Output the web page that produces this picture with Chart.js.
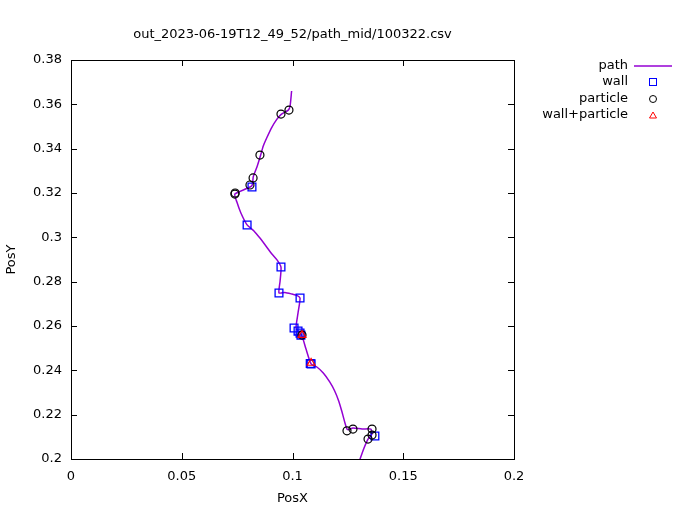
<!DOCTYPE html>
<html>
<head>
<meta charset="utf-8">
<script src="https://cdn.jsdelivr.net/npm/chart.js@4/dist/chart.umd.min.js"></script>
<style>
  html, body { margin: 0; padding: 0; background: #fff; }
  #wrap { width: 680px; height: 519px; }
</style>
</head>
<body>
<div id="wrap"><canvas id="c" width="680" height="519"></canvas></div>
<script>
'use strict';

// --- data ---
const TITLE = 'out_2023-06-19T12_49_52/path_mid/100322.csv';

const pathX = [0.0996, 0.0989, 0.0981, 0.0949, 0.0929, 0.0906, 0.0884, 0.0868, 0.0856, 0.0841,
  0.0823, 0.0816, 0.0740, 0.0749, 0.0767, 0.0795, 0.0826, 0.0853, 0.0880, 0.0907,
  0.0930, 0.0948, 0.0944, 0.0939, 0.0966, 0.0998, 0.1020, 0.1034, 0.1025, 0.1016,
  0.1029, 0.1043, 0.1061, 0.1084, 0.1110, 0.1139, 0.1168, 0.1190, 0.1209, 0.1223,
  0.1236, 0.1248, 0.1273, 0.1314, 0.1354, 0.1359, 0.1341, 0.1323, 0.1305, 0.1287];
const pathY = [0.3660, 0.3592, 0.3574, 0.3555, 0.3532, 0.3495, 0.3449, 0.3412, 0.3370, 0.3322,
  0.3274, 0.3232, 0.3195, 0.3159, 0.3110, 0.3056, 0.3029, 0.2997, 0.2961, 0.2925,
  0.2898, 0.2866, 0.2803, 0.2749, 0.2751, 0.2744, 0.2738, 0.2726, 0.2659, 0.2591,
  0.2573, 0.2555, 0.2496, 0.2429, 0.2415, 0.2388, 0.2348, 0.2308, 0.2261, 0.2214,
  0.2166, 0.2133, 0.2140, 0.2135, 0.2135, 0.2113, 0.2090, 0.2050, 0.2000, 0.1946];

const wallX = [0.0817, 0.0795, 0.0948, 0.0939, 0.1034, 0.1007, 0.1025, 0.1034, 0.1038, 0.1084, 0.1080, 0.1372];
const wallY = [0.3227, 0.3056, 0.2866, 0.2749, 0.2726, 0.2591, 0.2577, 0.2568, 0.2559, 0.2429, 0.2431, 0.2104];

const particleX = [0.0984, 0.0948, 0.0853, 0.0822, 0.0808, 0.0740, 0.0741, 0.1043, 0.1246, 0.1273, 0.1359, 0.1359, 0.1341];
const particleY = [0.3574, 0.3556, 0.3371, 0.3268, 0.3236, 0.3195, 0.3200, 0.2559, 0.2127, 0.2135, 0.2135, 0.2108, 0.2090];

const wpX = [0.1043, 0.1084];
const wpY = [0.2559, 0.2433];

const xTicks = [0, 0.05, 0.1, 0.15, 0.2];
const yTicks = [0.2, 0.22, 0.24, 0.26, 0.28, 0.3, 0.32, 0.34, 0.36, 0.38];

const COL_PATH = '#9400d3';
const COL_WALL = '#0000ff';
const COL_PART = '#000000';
const COL_WP = '#ff0000';

const pts = (xs, ys) => xs.map((x, i) => ({ x: x, y: ys[i] }));
const fmt = v => String(+v.toFixed(3));

Chart.defaults.font.family = "'DejaVu Sans', sans-serif";
Chart.defaults.font.size = 13;
Chart.defaults.color = '#000';

// gnuplot-like frame, inward ticks, title, axis labels and key
const gnuplotFrame = {
  id: 'gnuplotFrame',
  afterDraw(chart) {
    const ctx = chart.ctx;
    const a = chart.chartArea;
    const sx = chart.scales.x, sy = chart.scales.y;
    ctx.save();
    ctx.strokeStyle = '#000';
    ctx.lineWidth = 1;
    ctx.strokeRect(a.left + 0.5, a.top + 0.5, a.right - a.left, a.bottom - a.top);
    ctx.beginPath();
    xTicks.forEach(t => {
      const px = Math.round(sx.getPixelForValue(t)) + 0.5;
      ctx.moveTo(px, a.bottom); ctx.lineTo(px, a.bottom - 6);
      ctx.moveTo(px, a.top); ctx.lineTo(px, a.top + 6);
    });
    yTicks.forEach(t => {
      const py = Math.round(sy.getPixelForValue(t)) + 0.5;
      ctx.moveTo(a.left, py); ctx.lineTo(a.left + 6, py);
      ctx.moveTo(a.right, py); ctx.lineTo(a.right - 6, py);
    });
    ctx.stroke();

    ctx.fillStyle = '#000';
    ctx.font = "13px 'DejaVu Sans', sans-serif";
    ctx.textAlign = 'center';
    ctx.textBaseline = 'middle';
    ctx.fillText(TITLE, (a.left + a.right) / 2, 35);
    ctx.fillText('PosX', (a.left + a.right) / 2, 499);
    ctx.save();
    ctx.translate(12, (a.top + a.bottom) / 2);
    ctx.rotate(-Math.PI / 2);
    ctx.fillText('PosY', 0, 0);
    ctx.restore();

    // key
    const keyX = 628, symX = 653;
    const rows = [
      { text: 'path', y: 66 },
      { text: 'wall', y: 82 },
      { text: 'particle', y: 99 },
      { text: 'wall+particle', y: 115 }
    ];
    ctx.textAlign = 'right';
    rows.forEach(r => ctx.fillText(r.text, keyX, r.y));
    ctx.strokeStyle = COL_PATH;
    ctx.lineWidth = 1.5;
    ctx.beginPath();
    ctx.moveTo(634, 66); ctx.lineTo(672, 66);
    ctx.stroke();
    ctx.lineWidth = 1;
    ctx.strokeStyle = COL_WALL;
    ctx.strokeRect(symX - 3.5, 82 - 3.5, 7, 7);
    ctx.strokeStyle = COL_PART;
    ctx.beginPath(); ctx.arc(symX, 99, 3.5, 0, Math.PI * 2); ctx.stroke();
    ctx.strokeStyle = COL_WP;
    ctx.beginPath();
    ctx.moveTo(symX, 112); ctx.lineTo(symX + 3.5, 118); ctx.lineTo(symX - 3.5, 118); ctx.closePath();
    ctx.stroke();
    ctx.restore();
  }
};

new Chart(document.getElementById('c'), {
  type: 'scatter',
  data: {
    datasets: [{
      label: 'path',
      data: pts(pathX, pathY),
      showLine: true,
      borderColor: COL_PATH,
      borderWidth: 1.5,
      pointRadius: 0,
      tension: 0.2,
      order: 4
    }, {
      label: 'wall',
      data: pts(wallX, wallY),
      pointStyle: 'rect',
      pointRadius: 5.5,
      borderColor: COL_WALL,
      backgroundColor: 'rgba(0,0,0,0)',
      borderWidth: 1.3,
      order: 3
    }, {
      label: 'particle',
      data: pts(particleX, particleY),
      pointStyle: 'circle',
      pointRadius: 4,
      borderColor: COL_PART,
      backgroundColor: 'rgba(0,0,0,0)',
      borderWidth: 1.2,
      order: 2
    }, {
      label: 'wall+particle',
      data: pts(wpX, wpY),
      pointStyle: 'triangle',
      pointRadius: 4.5,
      borderColor: COL_WP,
      backgroundColor: 'rgba(0,0,0,0)',
      borderWidth: 1.2,
      order: 1
    }]
  },
  options: {
    responsive: false,
    animation: false,
    layout: { padding: { left: 0, top: 60, right: 166, bottom: 0 } },
    plugins: { legend: { display: false }, tooltip: { enabled: false } },
    scales: {
      x: {
        type: 'linear', min: 0, max: 0.2,
        afterBuildTicks: s => { s.ticks = xTicks.map(v => ({ value: v })); },
        afterFit: s => { s.height = 60; },
        grid: { display: false, drawTicks: false },
        border: { display: false },
        ticks: { padding: 10, callback: fmt, maxRotation: 0 }
      },
      y: {
        type: 'linear', min: 0.2, max: 0.38,
        afterBuildTicks: s => { s.ticks = yTicks.map(v => ({ value: v })); },
        afterFit: s => { s.width = 71; },
        grid: { display: false, drawTicks: false },
        border: { display: false },
        ticks: { padding: 9, callback: fmt }
      }
    }
  },
  plugins: [gnuplotFrame]
});
</script>
</body>
</html>
